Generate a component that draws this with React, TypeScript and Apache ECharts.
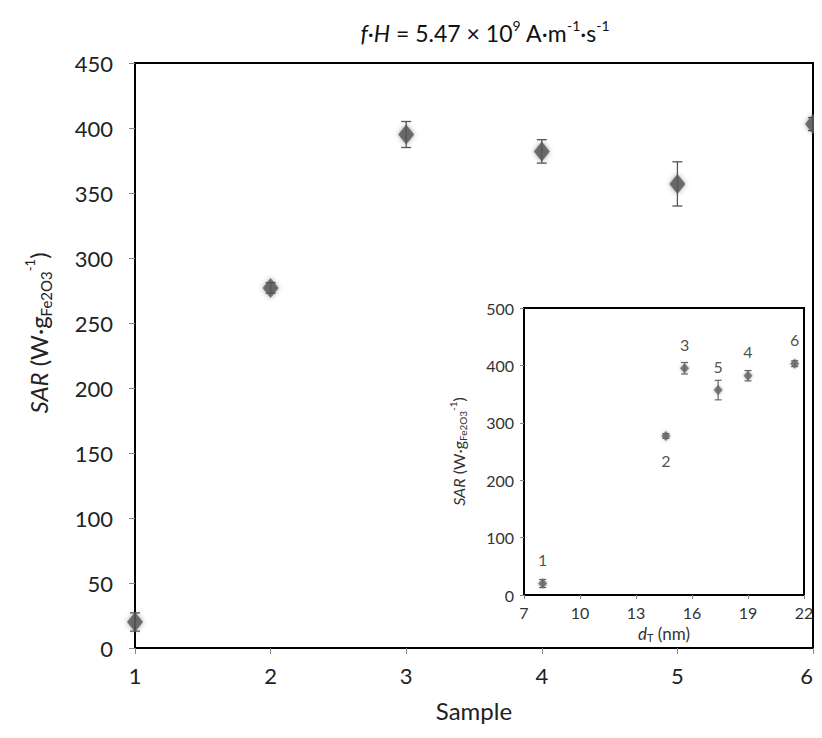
import React, { useEffect, useRef } from 'react';
import * as echarts from 'echarts';

// ---- data ----
const samples = [1, 2, 3, 4, 5, 6];
const sar = [20, 277, 395, 382, 357, 403];
const sarErr = [7, 4, 10, 9, 17, 5];
const dT = [8.0, 14.6, 15.6, 19.0, 17.4, 21.5];
const sampleLabels = ['1', '2', '3', '4', '5', '6'];
const insetLabelPos = ['top', 'bottom', 'top', 'top', 'top', 'top'];
const titleText = '{i|f}·{i|H} = 5.47 × 10{sup|9} A·m{sup|-1}·s{sup|-1}';
const sarName = '{i|SAR} (W·g{sub|Fe2O3}{sup|-1})';
const dTName = '{i|d}{sub|T} (nm)';

const FONT = 'Lato, "Open Sans", sans-serif';

function errorRenderer(cap: number, color: string, lw: number) {
  return (params: any, api: any) => {
    const x = api.value(0);
    const lo = api.value(1);
    const hi = api.value(2);
    const p1 = api.coord([x, hi]);
    const p2 = api.coord([x, lo]);
    const w = cap / 2;
    const style = { stroke: color, lineWidth: lw };
    return {
      type: 'group',
      children: [
        { type: 'line', shape: { x1: p1[0], y1: p1[1], x2: p2[0], y2: p2[1] }, style },
        { type: 'line', shape: { x1: p1[0] - w, y1: p1[1], x2: p1[0] + w, y2: p1[1] }, style },
        { type: 'line', shape: { x1: p2[0] - w, y1: p2[1], x2: p2[0] + w, y2: p2[1] }, style },
      ],
    };
  };
}

export default function App() {
  const ref = useRef<HTMLDivElement>(null);
  useEffect(() => {
    if (!ref.current) return;
    const chart = echarts.init(ref.current, null, { renderer: 'svg' });
    const mainPts = samples.map((s, i) => [s, sar[i]]);
    const mainErr = samples.map((s, i) => [s, sar[i] - sarErr[i], sar[i] + sarErr[i]]);
    const insetPts = dT.map((d, i) => ({
      value: [d, sar[i]],
      label: { position: insetLabelPos[i] },
    }));
    const insetErr = dT.map((d, i) => [d, sar[i] - sarErr[i], sar[i] + sarErr[i]]);

    const tickStyle = { color: '#888', width: 1 };
    chart.setOption({
      animation: false,
      backgroundColor: '#fff',
      textStyle: { fontFamily: FONT },
      grid: [
        {
          left: 127, top: 55, width: 678, height: 585,
          show: true, borderColor: '#000', borderWidth: 2, backgroundColor: 'transparent',
        },
        {
          left: 516, top: 300, width: 280, height: 287,
          show: true, borderColor: '#000', borderWidth: 2, backgroundColor: '#fff',
        },
      ],
      xAxis: [
        {
          gridIndex: 0, type: 'value', min: 1, max: 6, interval: 1,
          axisLine: { show: true, lineStyle: { color: '#000', width: 2 } },
          axisTick: { show: true, length: 6, lineStyle: tickStyle },
          axisLabel: { fontSize: 22, color: '#222', margin: 16, fontFamily: FONT, alignMaxLabel: 'right' },
          splitLine: { show: false },
          name: 'Sample', nameLocation: 'middle', nameGap: 50,
          nameTextStyle: { fontSize: 24, color: '#222', fontFamily: FONT },
        },
        {
          gridIndex: 1, type: 'value', min: 7, max: 22, interval: 3,
          axisLine: { show: true, lineStyle: { color: '#000', width: 2 } },
          axisTick: { show: true, length: 4, lineStyle: tickStyle },
          axisLabel: { fontSize: 16, color: '#333', margin: 9, fontFamily: FONT },
          splitLine: { show: false },
          name: dTName, nameLocation: 'middle', nameGap: 28,
          nameTextStyle: {
            fontSize: 17, color: '#333', fontFamily: FONT, lineHeight: 20,
            rich: {
              i: { fontStyle: 'italic', fontSize: 17, fontFamily: FONT, color: '#333', lineHeight: 20 },
              sub: { fontSize: 11, verticalAlign: 'bottom', lineHeight: 11, fontFamily: FONT, color: '#333' },
            },
          },
        },
      ],
      yAxis: [
        {
          gridIndex: 0, type: 'value', min: 0, max: 450, interval: 50,
          axisLine: { show: true, lineStyle: { color: '#000', width: 2 } },
          axisTick: { show: true, length: 6, lineStyle: tickStyle },
          axisLabel: { fontSize: 22, color: '#222', margin: 22, fontFamily: FONT },
          splitLine: { show: false },
        },
        {
          gridIndex: 1, type: 'value', min: 0, max: 500, interval: 100,
          axisLine: { show: true, lineStyle: { color: '#000', width: 2 } },
          axisTick: { show: true, length: 4, lineStyle: tickStyle },
          axisLabel: { fontSize: 16, color: '#333', margin: 10, fontFamily: FONT },
          splitLine: { show: false },
          name: sarName, nameLocation: 'middle', nameGap: 56, nameRotate: 90,
          nameTextStyle: {
            fontSize: 16, color: '#333', fontFamily: FONT, lineHeight: 20,
            rich: {
              i: { fontStyle: 'italic', fontSize: 16, fontFamily: FONT, color: '#333', lineHeight: 20 },
              sub: { fontSize: 10, verticalAlign: 'bottom', lineHeight: 10, fontFamily: FONT, color: '#333' },
              sup: { fontSize: 10, verticalAlign: 'top', lineHeight: 10, fontFamily: FONT, color: '#333' },
            },
          },
        },
      ],
      series: [
        {
          type: 'custom', xAxisIndex: 0, yAxisIndex: 0, data: mainErr,
          encode: { x: 0, y: [1, 2] }, renderItem: errorRenderer(10, '#555', 1.3), z: 2,
        },
        {
          type: 'scatter', xAxisIndex: 0, yAxisIndex: 0, data: mainPts,
          symbol: 'diamond', symbolSize: [16, 20],
          itemStyle: { color: '#555', shadowBlur: 5, shadowColor: 'rgba(60,60,60,0.6)' },
          z: 3,
        },
        {
          type: 'custom', xAxisIndex: 1, yAxisIndex: 1, data: insetErr,
          encode: { x: 0, y: [1, 2] }, renderItem: errorRenderer(7, '#666', 1.2), z: 4,
        },
        {
          type: 'scatter', xAxisIndex: 1, yAxisIndex: 1, data: insetPts,
          symbol: 'diamond', symbolSize: [9, 10],
          itemStyle: { color: '#666', shadowBlur: 3, shadowColor: 'rgba(80,80,80,0.6)' },
          label: {
            show: true, distance: 11, fontSize: 16, color: '#222', fontFamily: FONT,
            formatter: (p: any) => sampleLabels[p.dataIndex],
          },
          z: 5,
        },
      ],
      graphic: [
        {
          type: 'text', x: 477, y: 25, z: 10,
          style: {
            text: titleText, x: 0, y: 0, align: 'center', verticalAlign: 'middle',
            fontSize: 23, fontFamily: FONT, fill: '#111', lineHeight: 30,
            rich: {
              i: { fontStyle: 'italic', fontSize: 23, fontFamily: FONT, fill: '#111', lineHeight: 30 },
              sup: { fontSize: 14, verticalAlign: 'top', lineHeight: 14, fontFamily: FONT, fill: '#111' },
            },
          },
        },
        {
          type: 'text', x: 30, y: 325, rotation: Math.PI / 2, z: 10,
          style: {
            text: sarName, x: 0, y: 0, align: 'center', verticalAlign: 'middle',
            fontSize: 24, fontFamily: FONT, fill: '#222', lineHeight: 30,
            rich: {
              i: { fontStyle: 'italic', fontSize: 24, fontFamily: FONT, fill: '#222', lineHeight: 30 },
              sub: { fontSize: 15, verticalAlign: 'bottom', lineHeight: 15, fontFamily: FONT, fill: '#222' },
              sup: { fontSize: 13, verticalAlign: 'top', lineHeight: 13, fontFamily: FONT, fill: '#222' },
            },
          },
        },
      ],
    });
    return () => chart.dispose();
  }, []);
  return (
    <div style={{ width: 814, height: 722, overflow: 'hidden' }}>
      <div ref={ref} style={{ width: 880, height: 722 }} />
    </div>
  );
}
